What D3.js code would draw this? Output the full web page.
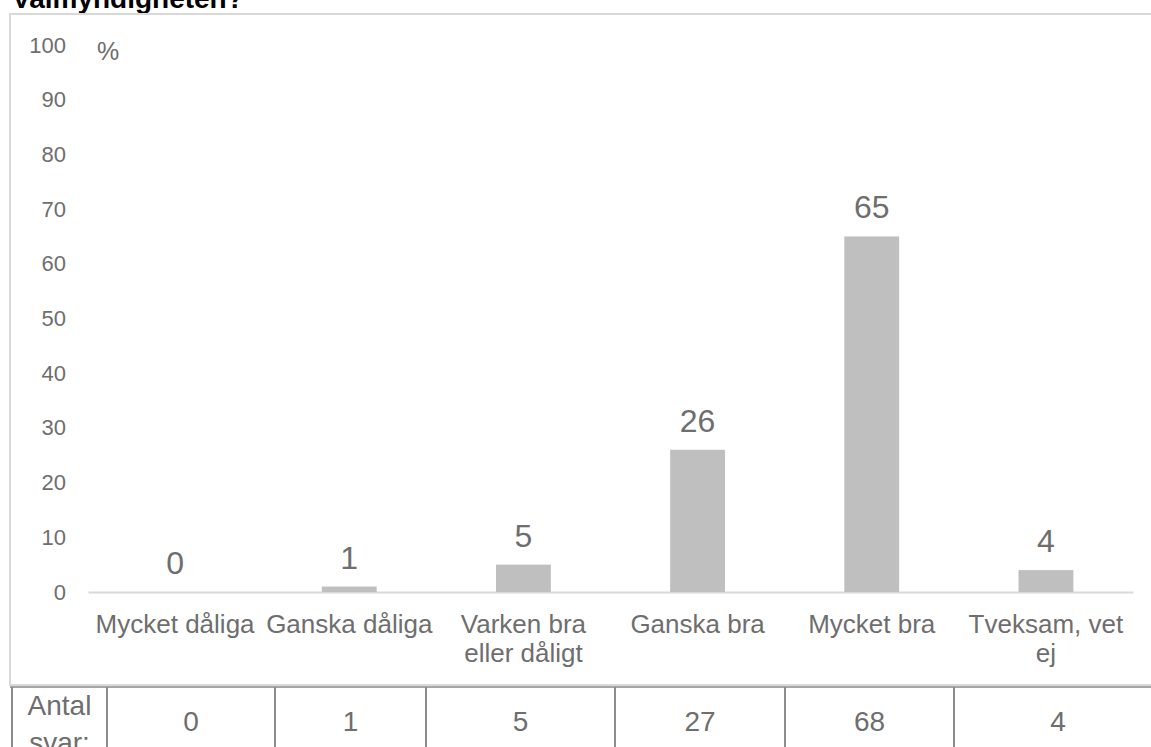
<!DOCTYPE html>
<html>
<head>
<meta charset="utf-8">
<script src="https://cdn.jsdelivr.net/npm/d3@7"></script>
<style>
body { margin: 0; background: #fff; }
svg { display: block; font-family: "Liberation Sans", Arial, sans-serif; }
</style>
</head>
<body>
<svg width="1151" height="747"></svg>
<script>
// data
var title = "Valmyndigheten?";
var unitLabel = "%";
var categories = ["Mycket dåliga", "Ganska dåliga", "Varken bra eller dåligt", "Ganska bra", "Mycket bra", "Tveksam, vet ej"];
var percent = [0, 1, 5, 26, 65, 4];
var antalSvar = [0, 1, 5, 27, 68, 4];
var yTicks = [0, 10, 20, 30, 40, 50, 60, 70, 80, 90, 100];
var tableHeader = ["Antal", "svar:"];

var svg = d3.select("svg");
var grey = "#6e6e6e";

//==================================================
// layout

var plotLeft = 88, plotRight = 1133, plotTop = 45, plotBottom = 592;
// the table below the chart is a pasted table, its columns do not line up with the bars
var tableEdges = [12, 107, 275, 426, 615, 785, 954, 1162];
var tableTop = 687;

var x = d3.scaleBand()
    .domain(categories)
    .range([plotLeft, plotRight])
    .paddingInner(0.685)
    .paddingOuter(0.3425);

var y = d3.scaleLinear()
    .domain([0, 100])
    .range([plotBottom, plotTop]);

// title, mostly cut off by the top edge
svg.append("text")
    .attr("x", 12)
    .attr("y", 8)
    .style("font-weight", "bold")
    .style("font-size", "28px")
    .style("fill", "#000")
    .text(title);

// chart frame
svg.append("rect")
    .attr("x", 10)
    .attr("y", 14)
    .attr("width", 1160)
    .attr("height", 671)
    .style("fill", "none")
    .style("stroke", "#d9d9d9")
    .style("stroke-width", 2);

//==================================================
// axes

var yAxis = svg.append("g")
    .attr("transform", "translate(" + plotLeft + ",0)")
    .call(d3.axisLeft(y).tickValues(yTicks).tickSize(0).tickPadding(22));
yAxis.select(".domain").remove();
yAxis.selectAll("text")
    .style("font-size", "22px")
    .style("font-family", "Liberation Sans, Arial, sans-serif")
    .style("fill", grey);

svg.append("text")
    .attr("x", 97)
    .attr("y", 60)
    .style("font-size", "25px")
    .style("fill", grey)
    .text(unitLabel);

var xAxis = svg.append("g")
    .attr("transform", "translate(0," + plotBottom + ")")
    .call(d3.axisBottom(x).tickSize(0).tickSizeOuter(0));
xAxis.select(".domain")
    .style("stroke", "#d9d9d9")
    .style("stroke-width", 2);

// wrap the category names to the band width, like the original does
xAxis.selectAll("text")
    .style("font-size", "26px")
    .style("font-family", "Liberation Sans, Arial, sans-serif")
    .style("fill", grey)
    .attr("dy", null)
    .attr("y", 41)
    .each(function(d) {
        var el = d3.select(this);
        var words = d.split(" ");
        el.text(null);
        var line = [];
        var tspan = el.append("tspan").attr("x", 0).attr("y", 41);
        var lineNo = 0;
        words.forEach(function(w) {
            line.push(w);
            tspan.text(line.join(" "));
            if (tspan.node().getComputedTextLength() > x.step() && line.length > 1) {
                line.pop();
                tspan.text(line.join(" "));
                line = [w];
                lineNo++;
                tspan = el.append("tspan").attr("x", 0).attr("y", 41 + lineNo * 29).text(w);
            }
        });
    });

//==================================================
// bars and value labels

svg.append("g")
    .selectAll("rect")
    .data(percent)
    .enter().append("rect")
    .attr("x", function(d, i) { return x(categories[i]); })
    .attr("width", x.bandwidth())
    .attr("y", function(d) { return y(d); })
    .attr("height", function(d) { return y(0) - y(d); })
    .style("fill", "#bfbfbf");

svg.append("g")
    .selectAll("text")
    .data(percent)
    .enter().append("text")
    .attr("x", function(d, i) { return x(categories[i]) + x.bandwidth() / 2; })
    .attr("y", function(d) { return y(d) - 18; })
    .attr("text-anchor", "middle")
    .style("font-size", "32px")
    .style("fill", grey)
    .text(function(d) { return d; });

//==================================================
// "Antal svar" table

var table = svg.append("g");

table.append("line")
    .attr("x1", 10).attr("x2", 1151)
    .attr("y1", tableTop).attr("y2", tableTop)
    .style("stroke", "#a6a6a6")
    .style("stroke-width", 2);

table.selectAll("line.col")
    .data(tableEdges)
    .enter().append("line")
    .attr("class", "col")
    .attr("x1", function(d) { return d; })
    .attr("x2", function(d) { return d; })
    .attr("y1", tableTop)
    .attr("y2", 747)
    .style("stroke", "#8c8c8c")
    .style("stroke-width", 2);

table.append("text")
    .attr("text-anchor", "middle")
    .style("font-size", "28px")
    .style("fill", grey)
    .selectAll("tspan")
    .data(tableHeader)
    .enter().append("tspan")
    .attr("x", (tableEdges[0] + tableEdges[1]) / 2)
    .attr("y", function(d, i) { return 715 + i * 37; })
    .text(function(d) { return d; });

table.selectAll("text.val")
    .data(antalSvar)
    .enter().append("text")
    .attr("class", "val")
    .attr("x", function(d, i) { return (tableEdges[i + 1] + tableEdges[i + 2]) / 2; })
    .attr("y", 731)
    .attr("text-anchor", "middle")
    .style("font-size", "28px")
    .style("fill", grey)
    .text(function(d) { return d; });
</script>
</body>
</html>
